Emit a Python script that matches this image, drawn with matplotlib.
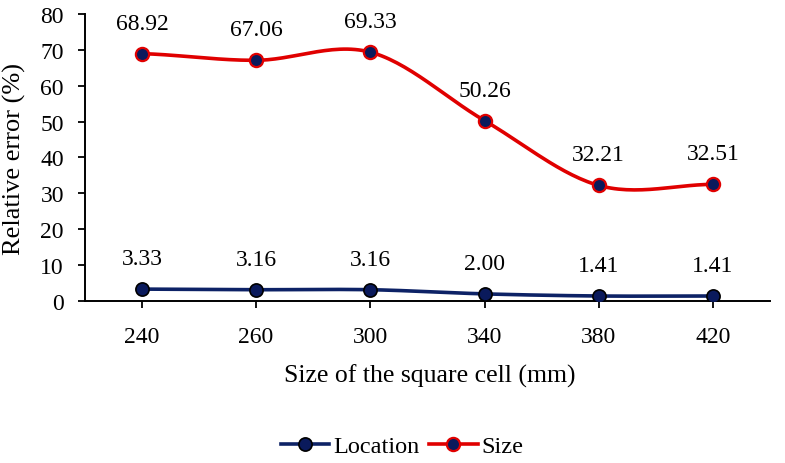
import numpy as np
import matplotlib
matplotlib.use("Agg")
import matplotlib.pyplot as plt
from matplotlib.lines import Line2D

categories = ["240", "260", "300", "340", "380", "420"]
location = [3.33, 3.16, 3.16, 2.00, 1.41, 1.41]
size = [68.92, 67.06, 69.33, 50.26, 32.21, 32.51]
y_ticks = [0, 10, 20, 30, 40, 50, 60, 70, 80]

plt.rcParams['font.family'] = ['Liberation Serif', 'DejaVu Serif']

def smooth(xs, ys, n=30):
    xs = np.asarray(xs, float); ys = np.asarray(ys, float)
    px = np.concatenate([[2*xs[0]-xs[1]], xs, [2*xs[-1]-xs[-2]]])
    py = np.concatenate([[ys[0]], ys, [ys[-1]]])
    ox, oy = [], []
    for i in range(1, len(px)-2):
        t = np.linspace(0, 1, n, endpoint=(i == len(px)-3))
        p0, p1, p2, p3 = [np.array([px[j], py[j]]) for j in range(i-1, i+3)]
        t2, t3 = t*t, t*t*t
        pts = 0.5*((2*p1)[:, None] + (-p0+p2)[:, None]*t + (2*p0-5*p1+4*p2-p3)[:, None]*t2
                   + (-p0+3*p1-3*p2+p3)[:, None]*t3)
        ox.extend(pts[0]); oy.extend(pts[1])
    return np.array(ox), np.array(oy)

FS = 17
LFS = 18.5
fig = plt.figure(figsize=(7.85, 4.64), dpi=100)
ax = fig.add_axes([0.108, 0.349, 0.873, 0.619])

x = np.arange(len(categories))
navy = '#0d2266'
red = '#e00000'
mfill = '#0a1a5c'

sx, sy = smooth(x, location)
ax.plot(sx, sy, color=navy, lw=2.6, zorder=2)
ax.plot(x, location, 'o', ms=9.5, mfc=mfill, mec='black', mew=1.2, zorder=3)
sx, sy = smooth(x, size)
ax.plot(sx, sy, color=red, lw=2.6, zorder=2)
ax.plot(x, size, 'o', ms=9.5, mfc=mfill, mec=red, mew=1.6, zorder=3)

for xi, v in zip(x, location):
    ax.annotate(f"{v:.2f}", (xi, v), xytext=(0, 22), textcoords='offset points',
                ha='center', va='center', fontsize=FS)
for xi, v in zip(x, size):
    ax.annotate(f"{v:.2f}", (xi, v), xytext=(0, 22), textcoords='offset points',
                ha='center', va='center', fontsize=FS)

ax.set_xlim(-0.5, len(categories)-0.5)
ax.set_ylim(0, 80)
ax.set_yticks(y_ticks)
ax.set_xticks(x)
ax.set_xticklabels(categories)
ax.tick_params(axis='both', labelsize=FS, direction='out', length=5, width=1.3, colors='black')
ax.tick_params(axis='x', pad=13)
ax.tick_params(axis='y', pad=10)
for s in ['top', 'right']:
    ax.spines[s].set_visible(False)
for s in ['left', 'bottom']:
    ax.spines[s].set_linewidth(1.4)

fig.text(430/785, 1-376/464, "Size of the square cell (mm)", fontsize=LFS, ha='center', va='center')
fig.text(14/785, 1-159/464, "Relative error (%)", fontsize=LFS + 0.5, ha='center', va='center', rotation=90)

handles = [
    Line2D([], [], color=navy, lw=2.6, marker='o', ms=9.5, mfc=mfill, mec='black', mew=1.2),
    Line2D([], [], color=red, lw=2.6, marker='o', ms=9.5, mfc=mfill, mec=red, mew=1.6),
]
fig.legend(handles, ["Location", "Size"], loc='center', bbox_to_anchor=(402/785, 1-447/464),
           ncol=2, frameon=False, fontsize=17.5, handlelength=2.0, handletextpad=0.15,
           columnspacing=0.4, borderpad=0)

fig.savefig("out.png", dpi=100)
